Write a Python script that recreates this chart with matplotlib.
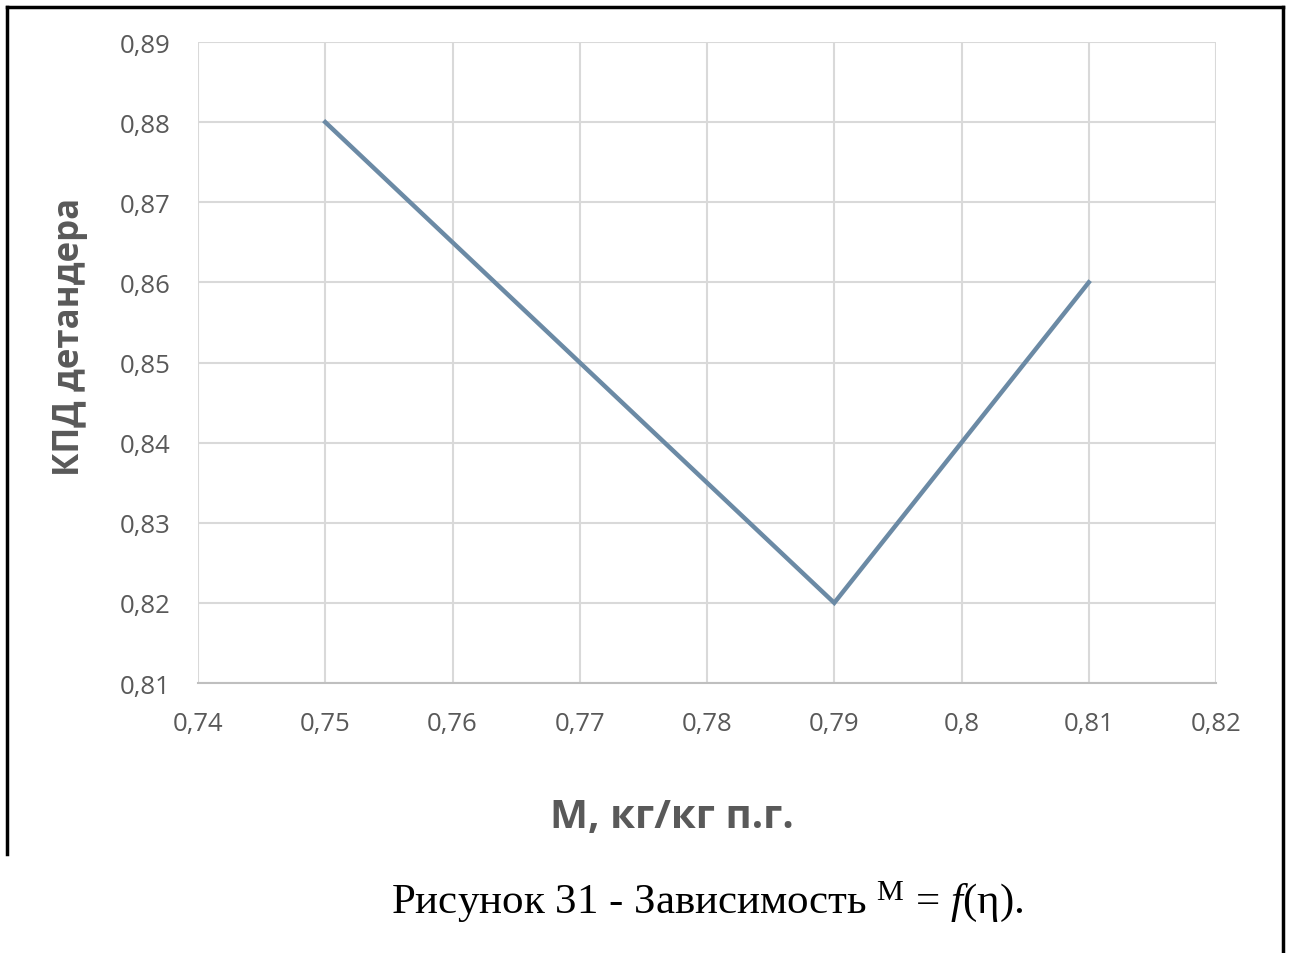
import matplotlib
matplotlib.use("Agg")
import matplotlib.pyplot as plt
from matplotlib.lines import Line2D

x_vals = [0.75, 0.79, 0.81]
y_vals = [0.88, 0.82, 0.86]
x_ticks = [0.74, 0.75, 0.76, 0.77, 0.78, 0.79, 0.80, 0.81, 0.82]
x_tick_labels = ["0,74", "0,75", "0,76", "0,77", "0,78", "0,79", "0,8", "0,81", "0,82"]
y_ticks = [0.81, 0.82, 0.83, 0.84, 0.85, 0.86, 0.87, 0.88, 0.89]
y_tick_labels = ["0,81", "0,82", "0,83", "0,84", "0,85", "0,86", "0,87", "0,88", "0,89"]
x_label = "М, кг/кг п.г."
y_label = "КПД детандера"
caption = "Рисунок 31 - Зависимость "

plt.rcParams['mathtext.fontset'] = 'custom'
plt.rcParams['mathtext.rm'] = 'Liberation Serif'
plt.rcParams['mathtext.it'] = 'Liberation Serif:italic'

W, H = 1290, 954
fig = plt.figure(figsize=(W / 100, H / 100), dpi=100)
fig.patch.set_facecolor('white')

ax = fig.add_axes([198 / W, 1 - 684 / H, (1216 - 198) / W, (684 - 43) / H])
ax.plot(x_vals, y_vals, color='#6b8aa5', linewidth=3.2, solid_joinstyle='miter')
ax.set_xlim(0.74, 0.82)
ax.set_ylim(0.81, 0.89)
ax.set_xticks(x_ticks)
ax.set_xticklabels(x_tick_labels)
ax.set_yticks(y_ticks)
ax.set_yticklabels(y_tick_labels)
ax.grid(True, color='#d9d9d9', linewidth=1.5)
ax.set_axisbelow(True)
for s in ['top', 'right', 'left']:
    ax.spines[s].set_visible(False)
ax.spines['bottom'].set_color('#bfbfbf')
ax.spines['bottom'].set_linewidth(1.5)
ax.tick_params(axis='both', length=0, labelsize=18.5, labelcolor='#595959')
ax.tick_params(axis='x', pad=20)
ax.tick_params(axis='y', pad=20)
for lab in ax.get_xticklabels() + ax.get_yticklabels():
    lab.set_fontfamily('Open Sans')

fig.text(70 / W, 1 - 337 / H, y_label, rotation=90, ha='center', va='center',
         fontsize=25, fontweight='bold', color='#595959', family='Open Sans')
fig.text(672 / W, 1 - 818 / H, x_label, ha='center', va='center',
         fontsize=29, fontweight='bold', color='#595959', family='Open Sans')
fig.text(707 / W, 1 - 902 / H, caption + r"$^{\mathrm{M}}$ = $f$(η).", ha='center', va='center',
         fontsize=31, color='black', family='Liberation Serif')

# outer frame
fig.add_artist(Line2D([7 / W, 1283 / W], [1 - 8 / H, 1 - 8 / H], color='black', linewidth=2.5, transform=fig.transFigure))
fig.add_artist(Line2D([7 / W, 7 / W], [1 - 8 / H, 1 - 855 / H], color='black', linewidth=2.5, transform=fig.transFigure))
fig.add_artist(Line2D([1283 / W, 1283 / W], [1 - 8 / H, 0], color='black', linewidth=2.5, transform=fig.transFigure))

fig.savefig('out.png', dpi=100)
